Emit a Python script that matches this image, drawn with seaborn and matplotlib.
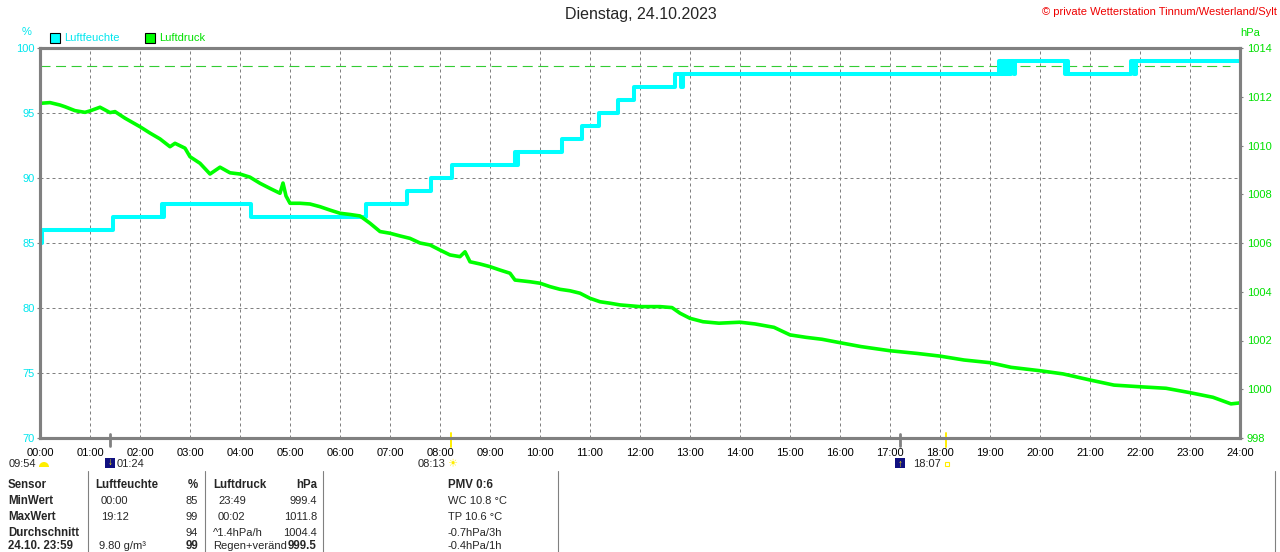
import seaborn as sns
import matplotlib.pyplot as plt
import matplotlib.transforms as mtransforms
import pandas as pd
from matplotlib.patches import Rectangle, Wedge

# --- data --------------------------------------------------------------
hum_hours = [0.00, 0.03, 1.45, 2.44, 2.46, 2.47, 4.21, 6.52, 7.33, 7.81, 8.23,
             9.50, 9.52, 9.55, 10.43, 10.83, 11.17, 11.55, 11.87, 12.69, 12.82,
             12.86, 19.18, 19.22, 19.26, 19.30, 19.34, 19.38, 19.42, 19.47,
             19.50, 20.50, 20.53, 20.56, 21.82, 21.88, 21.92, 24.00]
hum_values = [85, 86, 87, 88, 87, 88, 87, 88, 89, 90, 91,
              92, 91, 92, 93, 94, 95, 96, 97, 98, 97,
              98, 99, 98, 99, 98, 99, 98, 99, 98,
              99, 98, 99, 98, 99, 98, 99, 99]

press_hours = [0.0, 0.2, 0.4, 0.5, 0.7, 0.9, 1.0, 1.2, 1.4, 1.5, 1.7, 2.0, 2.2,
               2.4, 2.6, 2.7, 2.9, 3.0, 3.2, 3.4, 3.6, 3.8, 4.0, 4.2, 4.4, 4.6,
               4.8, 4.86, 4.92, 5.0, 5.2, 5.4, 5.6, 5.8, 6.0, 6.2, 6.4, 6.6, 6.8,
               7.0, 7.2, 7.4, 7.6, 7.8, 8.0, 8.2, 8.4, 8.5, 8.6, 8.8, 9.0, 9.2,
               9.4, 9.5, 9.8, 10.0, 10.2, 10.4, 10.6, 10.8, 11.0, 11.2, 11.4,
               11.6, 12.0, 12.4, 12.64, 12.8, 13.0, 13.26, 13.58, 14.0, 14.3,
               14.68, 15.0, 15.32, 15.64, 16.0, 16.42, 17.0, 17.54, 18.0, 18.48,
               19.0, 19.42, 20.0, 20.46, 21.0, 21.48, 22.02, 22.52, 23.0, 23.46,
               23.82, 24.0]
press_values = [1011.73, 1011.76, 1011.66, 1011.59, 1011.43, 1011.36, 1011.42,
                1011.57, 1011.35, 1011.39, 1011.12, 1010.77, 1010.51, 1010.27,
                1009.95, 1010.09, 1009.89, 1009.54, 1009.27, 1008.83, 1009.11,
                1008.88, 1008.83, 1008.70, 1008.45, 1008.24, 1008.04, 1008.46,
                1007.93, 1007.63, 1007.63, 1007.60, 1007.49, 1007.35, 1007.22,
                1007.17, 1007.11, 1006.81, 1006.47, 1006.40, 1006.29, 1006.19,
                1006.00, 1005.92, 1005.71, 1005.51, 1005.44, 1005.64, 1005.23,
                1005.14, 1005.03, 1004.89, 1004.76, 1004.48, 1004.41, 1004.35,
                1004.21, 1004.10, 1004.04, 1003.94, 1003.73, 1003.59, 1003.53,
                1003.46, 1003.39, 1003.39, 1003.35, 1003.12, 1002.91, 1002.77,
                1002.71, 1002.75, 1002.68, 1002.54, 1002.23, 1002.13, 1002.05,
                1001.91, 1001.75, 1001.58, 1001.47, 1001.36, 1001.20, 1001.09,
                1000.90, 1000.76, 1000.63, 1000.38, 1000.17, 1000.10, 1000.04,
                999.86, 999.67, 999.40, 999.44]

std_pressure = 1013.25
hour_labels = ["%02d:00" % h for h in range(25)]
hum_ticks = [70, 75, 80, 85, 90, 95, 100]
press_ticks = [998, 1000, 1002, 1004, 1006, 1008, 1010, 1012, 1014]

# sun / moon events (hours) shown under the axis
grey_events = [1.40, 17.20]
yellow_events = [8.217, 18.117]

table_rows = [
    ["Sensor", "Luftfeuchte", "%", "Luftdruck", "hPa", "PMV 0:6"],
    ["MinWert", "00:00", "85", "23:49", "999.4", "WC 10.8 °C"],
    ["MaxWert", "19:12", "99", "00:02", "1011.8", "TP 10.6 °C"],
    ["Durchschnitt", "", "94", "^1.4hPa/h", "1004.4", "-0.7hPa/3h"],
    ["24.10. 23:59", "9.80 g/m³", "99", "Regen+veränd", "999.5", "-0.4hPa/1h"],
]

CYAN = "#00ffff"
CYAN_TXT = "#00e6ee"
GREEN = "#00ff00"
GREEN_TXT = "#00e000"
DASH_GREEN = "#33cc33"
GREY = "#808080"

sns.set_style("white")
plt.rcParams['font.family'] = ['Liberation Sans', 'DejaVu Sans']
plt.rcParams['font.size'] = 8

W, H = 1280, 552
fig = plt.figure(figsize=(12.8, 5.52), dpi=100)
ax = fig.add_axes([40 / W, 114 / H, 1200 / W, 390 / H])
ax2 = ax.twinx()

hum_df = pd.DataFrame({"Stunde": hum_hours, "Luftfeuchte": hum_values})
press_df = pd.DataFrame({"Stunde": press_hours, "Luftdruck": press_values})

sns.lineplot(data=hum_df, x="Stunde", y="Luftfeuchte", ax=ax, color=CYAN,
             linewidth=2.9, drawstyle="steps-post", estimator=None, sort=False,
             zorder=3)
sns.lineplot(data=press_df, x="Stunde", y="Luftdruck", ax=ax2, color=GREEN,
             linewidth=2.6, estimator=None, sort=False)

# standard pressure reference line, drawn under the humidity line
blend = mtransforms.blended_transform_factory(ax.transAxes, ax2.transData)
ax.plot([0, 0.992], [std_pressure, std_pressure], transform=blend,
        color=DASH_GREEN, linewidth=0.8, linestyle=(0, (9, 5)), zorder=2)

ax.set_xlim(0, 24)
ax.set_ylim(70, 100)
ax2.set_ylim(998, 1014)
ax.set_xticks(range(25))
ax.set_xticklabels(hour_labels)
ax.set_yticks(hum_ticks)
ax2.set_yticks(press_ticks)
for a in (ax, ax2):
    a.set_xlabel("")
    a.set_ylabel("")
    for s in a.spines.values():
        s.set_color(GREY)
        s.set_linewidth(2.2)

ax.set_axisbelow(True)
ax.grid(True, color=GREY, linestyle=(0, (3, 3)), linewidth=0.72)
ax.tick_params(axis='x', color=GREY, labelcolor="black", length=2, width=0.8,
               pad=5.5, labelsize=8)
ax.tick_params(axis='y', color=GREY, labelcolor=CYAN_TXT, length=2.5, width=0.8,
               pad=1.5, labelsize=8)
ax2.tick_params(axis='y', color=GREY, labelcolor=GREEN_TXT, length=2.5,
                width=0.8, pad=2.5, labelsize=8)

# event markers crossing the bottom axis
ev = mtransforms.blended_transform_factory(ax.transData, ax.transAxes)
for t in grey_events:
    ax.plot([t, t], [0.0103, -0.0205], transform=ev, color=GREY, lw=2,
            clip_on=False, zorder=5)
for t in yellow_events:
    ax.plot([t, t], [0.013, -0.023], transform=ev, color="#ffee00", lw=1.4,
            clip_on=False, zorder=5)

# --- overlay in pixel coordinates for texts and table ------------------
ov = fig.add_axes([0, 0, 1, 1])
ov.set_xlim(0, W)
ov.set_ylim(H, 0)
ov.axis('off')
ov.patch.set_alpha(0)

ov.text(641, 15, "Dienstag, 24.10.2023", ha='center', va='center', fontsize=11.5)
ov.text(1277, 12, "© private Wetterstation Tinnum/Westerland/Sylt", ha='right',
        va='center', fontsize=8, color="#ee0000")
ov.text(27, 32, "%", ha='center', va='center', fontsize=8, color=CYAN_TXT)
ov.text(1250, 33, "hPa", ha='center', va='center', fontsize=8, color=GREEN_TXT)

ov.add_patch(Rectangle((50, 33), 10, 10, facecolor=CYAN, edgecolor="black", lw=0.8))
ov.text(64, 38, "Luftfeuchte", va='center', fontsize=8, color=CYAN_TXT)
ov.add_patch(Rectangle((145, 33), 10, 10, facecolor=GREEN, edgecolor="black", lw=0.8))
ov.text(159, 38, "Luftdruck", va='center', fontsize=8, color=GREEN_TXT)

# sun and moon information
ov.text(36, 464, "09:54", ha='right', va='center', fontsize=8)
ov.add_patch(Wedge((44, 467), 5, 180, 360, facecolor="#ffee00", edgecolor="none"))
ov.add_patch(Rectangle((105, 458), 10, 10, facecolor="#101080", edgecolor="none"))
ov.text(110, 462, "↓", ha='center', va='center', fontsize=7, color="#ffee00",
        fontweight='bold')
ov.text(117, 464, "01:24", va='center', fontsize=8)
ov.text(445, 464, "08:13", ha='right', va='center', fontsize=8)
ov.text(452, 464, "☀", ha='center', va='center', fontsize=8, color="#ffee00")
ov.add_patch(Rectangle((895, 458), 10, 10, facecolor="#101080", edgecolor="none"))
ov.text(900, 464, "↑", ha='center', va='center', fontsize=7, color="#ffee00",
        fontweight='bold')
ov.text(913, 464, "18:07", va='center', fontsize=8)
ov.add_patch(Rectangle((945, 462), 4, 4, facecolor="none", edgecolor="#ffee00", lw=0.8))

# summary table
for xs in [88, 205, 323, 558, 1275]:
    ov.plot([xs, xs], [471, H], color=GREY, lw=0.8)

row_y = [485, 501, 517, 533, 546]
for i, row in enumerate(table_rows):
    y = row_y[i]
    head = i == 0
    ov.text(8, y, row[0], va='center', fontsize=8.3, fontweight='bold')
    ov.text(95 if head else (101 if i < 4 else 99), y, row[1], va='center',
            fontsize=8.3 if head else 8, fontweight='bold' if head else 'normal')
    ov.text(198, y, row[2], ha='right', va='center',
            fontsize=8.3 if head or i == 4 else 8,
            fontweight='bold' if head or i == 4 else 'normal')
    ov.text(213 if i in (0, 3, 4) else 218, y, row[3], va='center',
            fontsize=8.3 if head else 8, fontweight='bold' if head else 'normal')
    ov.text(317, y, row[4], ha='right', va='center',
            fontsize=8.3 if head or i == 4 else 8,
            fontweight='bold' if head or i == 4 else 'normal')
    ov.text(448, y, row[5], va='center', fontsize=8.3 if head else 8,
            fontweight='bold' if head else 'normal')

fig.savefig("out.png", dpi=100)
